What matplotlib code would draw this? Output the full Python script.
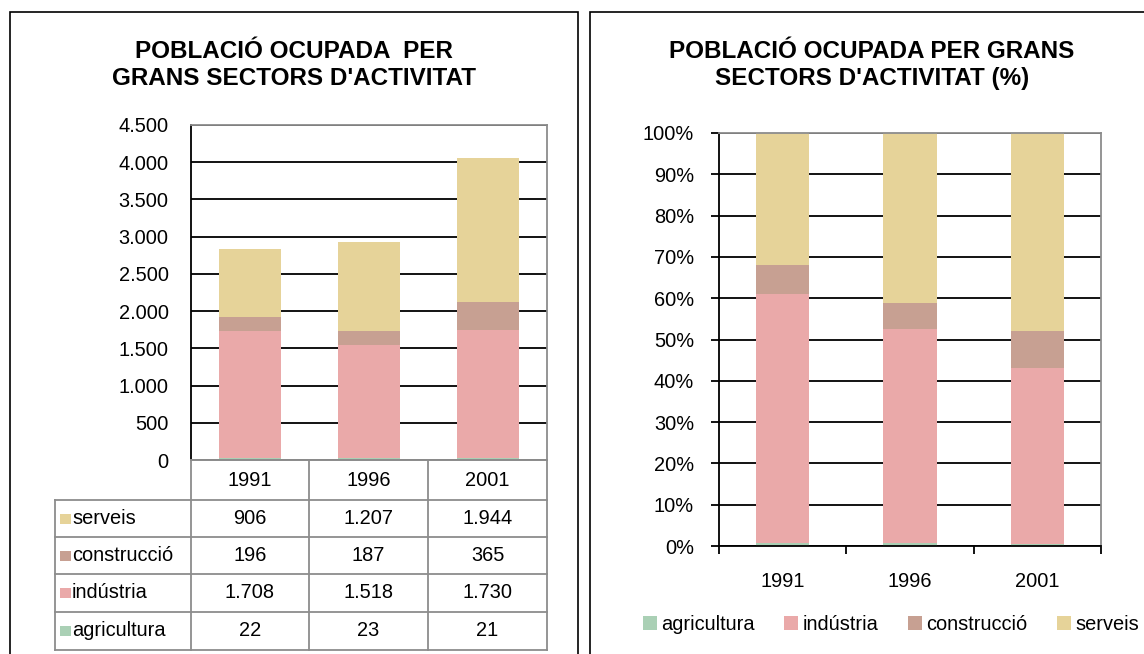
import matplotlib
matplotlib.use("Agg")
import matplotlib.pyplot as plt
from matplotlib.patches import Rectangle, Patch
from matplotlib.lines import Line2D
import numpy as np

plt.rcParams['font.family'] = ['Liberation Sans', 'DejaVu Sans']

years = ['1991', '1996', '2001']
agricultura = [22, 23, 21]
industria = [1708, 1518, 1730]
construccio = [196, 187, 365]
serveis = [906, 1207, 1944]

series_names = ['agricultura', 'indústria', 'construcció', 'serveis']
series_vals = [agricultura, industria, construccio, serveis]
colors = ['#AAD0B5', '#EAA9A9', '#C7A092', '#E6D399']

left_title = "POBLACIÓ OCUPADA  PER\nGRANS SECTORS D'ACTIVITAT"
right_title = "POBLACIÓ OCUPADA PER GRANS\nSECTORS D'ACTIVITAT (%)"

W, H = 1144, 654
fig = plt.figure(figsize=(W / 100, H / 100), dpi=100)
fig.patch.set_facecolor('white')

def fx(x):
    return x / W

def fy(y):
    return 1 - y / H

# Panel borders
fig.add_artist(Rectangle((fx(10), fy(670)), fx(578) - fx(10), fy(12) - fy(670),
                         transform=fig.transFigure, fill=False, ec='black', lw=1.2))
fig.add_artist(Rectangle((fx(590), fy(670)), fx(1160) - fx(590), fy(12) - fy(670),
                         transform=fig.transFigure, fill=False, ec='black', lw=1.2))

FS = 14.4
TFS = 17.5
GRAY = '#8c8c8c'

# ---------------- Left chart ----------------
axL = fig.add_axes([fx(191), fy(460), fx(547) - fx(191), fy(125) - fy(460)])
x = np.arange(len(years))
bottom = np.zeros(len(years))
for name, vals, c in zip(series_names, series_vals, colors):
    axL.bar(x, vals, 0.52, bottom=bottom, color=c, zorder=2)
    bottom += np.array(vals)
axL.set_xlim(-0.5, 2.5)
axL.set_ylim(0, 4500)
axL.set_yticks(np.arange(0, 4501, 500))
axL.set_yticklabels([f"{v:,}".replace(',', '.') for v in np.arange(0, 4501, 500)], fontsize=FS)
axL.tick_params(axis='y', length=0, pad=16)
axL.set_xticks([])
axL.yaxis.grid(True, color='black', lw=1.3, zorder=0)
axL.set_axisbelow(True)
for s in ['top', 'right', 'bottom']:
    axL.spines[s].set_color(GRAY)
    axL.spines[s].set_linewidth(1.3)
axL.spines['left'].set_color('black')
axL.spines['left'].set_linewidth(1.3)

fig.text(fx(294), fy(65), left_title, ha='center', va='center', fontsize=TFS,
         fontweight='bold', linespacing=1.25)

# Data table
col_edges = [191, 309, 428, 547]
row_edges = [460, 500, 537, 574, 612, 650]
tbl_left = 55

def hline(x0, x1, y):
    fig.add_artist(Line2D([fx(x0), fx(x1)], [fy(y), fy(y)], transform=fig.transFigure,
                          color=GRAY, lw=1.3))

def vline(x, y0, y1):
    fig.add_artist(Line2D([fx(x), fx(x)], [fy(y0), fy(y1)], transform=fig.transFigure,
                          color=GRAY, lw=1.3))

hline(191, 547, row_edges[0])
for y in row_edges[1:]:
    hline(tbl_left, 547, y)
for xc in col_edges:
    vline(xc, row_edges[0], row_edges[-1])
vline(tbl_left, row_edges[1], row_edges[-1])

for j, yr in enumerate(years):
    cx = (col_edges[j] + col_edges[j + 1]) / 2
    fig.text(fx(cx), fy((row_edges[0] + row_edges[1]) / 2), yr, ha='center', va='center', fontsize=FS)

table_order = [3, 2, 1, 0]
for i, si in enumerate(table_order):
    ytop, ybot = row_edges[i + 1], row_edges[i + 2]
    cy = (ytop + ybot) / 2
    fig.add_artist(Rectangle((fx(60), fy(cy + 5)), fx(11), fy(cy - 5) - fy(cy + 5),
                             transform=fig.transFigure, color=colors[si], lw=0))
    fig.text(fx(72), fy(cy), series_names[si], ha='left', va='center', fontsize=FS)
    for j in range(len(years)):
        cx = (col_edges[j] + col_edges[j + 1]) / 2
        fig.text(fx(cx), fy(cy), f"{series_vals[si][j]:,}".replace(',', '.'),
                 ha='center', va='center', fontsize=FS)

# ---------------- Right chart ----------------
axR = fig.add_axes([fx(719), fy(546), fx(1101) - fx(719), fy(133) - fy(546)])
totals = np.sum(np.array(series_vals), axis=0)
bottom = np.zeros(len(years))
for name, vals, c in zip(series_names, series_vals, colors):
    frac = np.array(vals) / totals
    axR.bar(x, frac, 0.42, bottom=bottom, color=c, zorder=2)
    bottom += frac
axR.set_xlim(-0.5, 2.5)
axR.set_ylim(0, 1)
yt = np.arange(0, 1.01, 0.1)
axR.set_yticks(yt)
axR.set_yticklabels([f"{int(round(v * 100))}%" for v in yt], fontsize=FS)
axR.tick_params(axis='y', length=6, width=1.3, pad=12, color='black')
axR.set_xticks([-0.5, 0.5, 1.5, 2.5])
axR.set_xticklabels([])
axR.set_xticks(x, minor=True)
axR.set_xticklabels(years, minor=True, fontsize=FS)
axR.tick_params(axis='x', which='major', length=6, width=1.3, direction='out')
axR.tick_params(axis='x', which='minor', length=0, pad=19)
axR.yaxis.grid(True, color='black', lw=1.3, zorder=0)
axR.set_axisbelow(True)
for s in ['top', 'right']:
    axR.spines[s].set_color(GRAY)
    axR.spines[s].set_linewidth(1.3)
for s in ['left', 'bottom']:
    axR.spines[s].set_color('black')
    axR.spines[s].set_linewidth(1.3)

fig.text(fx(872), fy(65), right_title, ha='center', va='center', fontsize=TFS,
         fontweight='bold', linespacing=1.25)

handles = [Patch(facecolor=c, edgecolor='none', label=n) for n, c in zip(series_names, colors)]
fig.legend(handles=handles, loc='center', bbox_to_anchor=(fx(891), fy(624)), ncol=4,
           frameon=False, fontsize=FS, handlelength=0.7, handleheight=0.7,
           handletextpad=0.2, columnspacing=1.5, borderaxespad=0)

fig.savefig('out.png', dpi=100)
